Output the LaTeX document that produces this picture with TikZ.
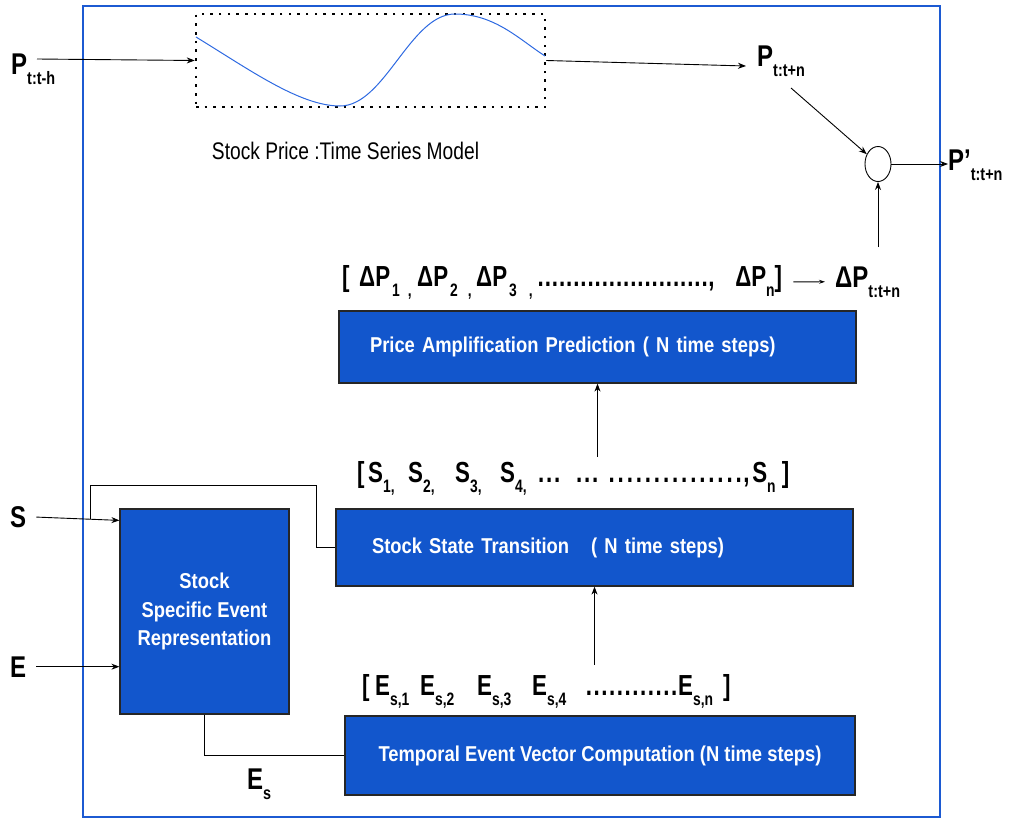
\documentclass[tikz,border=0pt]{standalone}
\usepackage{fontspec}
\setmainfont{Liberation Sans}
\newfontfamily\boxsf{Liberation Sans}[FakeStretch=0.855]
\newfontfamily\seqsf{Liberation Sans}[FakeStretch=0.8]
\newfontfamily\tightsf{Liberation Sans}[FakeStretch=0.77]
\usetikzlibrary{arrows.meta, shapes.geometric, positioning}

\definecolor{boxblue}{RGB}{18,86,204}
\definecolor{frameblue}{RGB}{28,90,210}
\definecolor{waveblue}{RGB}{45,105,225}
\newcommand{\lowtxt}[1]{\raisebox{-10pt}{\fontsize{18}{18}\selectfont #1}}
\newcommand{\seqcell}[2]{\makebox[#1][l]{#2}}
\newcommand{\seqdots}[2]{\hbox to #1{\xleaders\hbox to #2{\hss.\hss}\hfill}}

\tikzset{
	block/.style={draw=black!85, line width=1.2pt, fill=boxblue, text=white, inner sep=0pt,
		font=\boxsf\bfseries\fontsize{21.5}{28.5}\selectfont},
	lbl/.style={font=\seqsf\bfseries\fontsize{30}{30}\selectfont, inner sep=0pt, anchor=base west},
	seq/.style={font=\tightsf\bfseries\fontsize{29}{29}\selectfont, inner sep=0pt, anchor=base west},
	arr/.style={-{Stealth[length=8pt,width=6pt]}, line width=0.9pt},
	wire/.style={line width=0.9pt},
}

\begin{document}
\begin{tikzpicture}[x=1pt, y=-1pt]
	\useasboundingbox (0,0) rectangle (1010,819);
	\draw[frameblue, line width=2.6pt] (83,6) rectangle (940,817);

	% time series part
	\node[draw, dash pattern=on 2.5pt off 6.2pt, line width=2.5pt, minimum width=349pt,
		minimum height=93pt, inner sep=0pt] (model) at (370.5,60.5) {};
	\draw[waveblue, line width=1pt] (196,37) .. controls (250,70) and (300,106) .. (340,106)
		.. controls (385,106) and (410,14) .. (455,14) .. controls (495,14) and (520,40) .. (545,56);
	\node[font=\seqsf\fontsize{24}{24}\selectfont] (caption) at (345.5,151)
		{Stock Price :Time Series Model};

	\node[lbl] (Pin) at (11,74) {P\lowtxt{t:t-h}};
	\node[lbl] (Pout) at (757,66) {P\lowtxt{t:t+n}};
	\node[draw, ellipse, line width=0.9pt, minimum width=26pt, minimum height=35pt, inner sep=0pt]
		(sum) at (878,164) {};
	\node[lbl] (Pfinal) at (948,170) {P’\lowtxt{t:t+n}};
	\node[lbl] (dPout) at (835,287) {ΔP\lowtxt{t:t+n}};
	\coordinate (dPtop) at (878,247);

	% blocks
	\node[block, minimum width=517pt, minimum height=72pt, text width=455pt, align=left]
		(price) at (597.5,347) {Price Amplification Prediction ( N time steps)};
	\node[block, minimum width=517pt, minimum height=77pt, text width=445pt, align=left]
		(state) at (594.5,547.5) {Stock State Transition\hspace{22pt}( N time steps)};
	\node[block, minimum width=510pt, minimum height=79pt]
		(temporal) at (600,755.5) {Temporal Event Vector Computation (N time steps)};
	\node[block, minimum width=169pt, minimum height=205pt, align=center]
		(specific) at (204.5,611.5) {Stock\\Specific Event\\Representation};

	% sequences
	\node[seq] (dPseq) at (342,286)
		{\seqcell{17pt}{[}\seqcell{58pt}{ΔP\lowtxt{\hspace{2pt}1\hspace{8pt},}}%
		\seqcell{59pt}{ΔP\lowtxt{\hspace{2pt}2\hspace{10pt},}}\seqcell{61pt}{ΔP\lowtxt{\hspace{2pt}3\hspace{12pt},}}%
		\seqdots{171pt}{7pt}\seqcell{27pt}{,}ΔP\lowtxt{n}]};
	\node[seq] (Sseq) at (357,482)
		{\seqcell{11pt}{[}\seqcell{40pt}{S\lowtxt{1,}}\seqcell{47pt}{S\lowtxt{2,}}\seqcell{45pt}{S\lowtxt{3,}}%
		\seqcell{37pt}{S\lowtxt{4,}}\seqcell{38pt}{\seqdots{24pt}{7.9pt}}\seqdots{24pt}{7.9pt}\hspace{8pt}%
		\seqdots{136pt}{9pt}\seqcell{9pt}{,}S\lowtxt{n} ]};
	\node[seq] (Eseq) at (362,695)
		{\seqcell{13pt}{[}\seqcell{45pt}{E\lowtxt{s,1}}\seqcell{57pt}{E\lowtxt{s,2}}\seqcell{55pt}{E\lowtxt{s,3}}%
		\seqcell{53pt}{E\lowtxt{s,4}}\seqdots{93pt}{7.7pt}\seqcell{45pt}{E\lowtxt{s,n}}]};

	\node[lbl] (Slbl) at (10,527) {S};
	\node[lbl] (Elbl) at (10,677) {E};
	\node[lbl] (Eslbl) at (247,789) {E\lowtxt{s}};
	\coordinate (split) at (90,519);
	\coordinate (loop) at (316,485);

	% connectors
	\draw[arr] ([shift={(26pt,15pt)}]Pin.base west) -- (model.west);
	\draw[arr] (model.east) -- ([xshift=-11pt]Pout.base west);
	\draw[arr] ([shift={(34pt,-22pt)}]Pout.base west) -- (sum);
	\draw[arr] (dPtop) -- (sum.south);
	\draw[arr] (sum.east) -- (sum.east -| Pfinal.west);
	\draw[arr, -{Stealth[length=6pt,width=4pt]}, shorten <=11pt, shorten >=10pt] (dPseq.east) -- (dPout.west);
	\draw[arr] ([yshift=4pt]Sseq.north -| price.south) -- (price.south);
	\draw[arr] ([yshift=9pt]Eseq.north -| state.south) -- (state.south);
	\draw[arr, shorten <=10pt] (Slbl.east) -- ([yshift=-12pt]specific.north west);
	\draw[arr, shorten <=10pt] (Elbl.east) -- (specific.west |- Elbl.east);
	\draw[wire] (split) |- (loop) |- (state.west);
	\draw[wire] (specific.south) |- (temporal.west);
\end{tikzpicture}
\end{document}
